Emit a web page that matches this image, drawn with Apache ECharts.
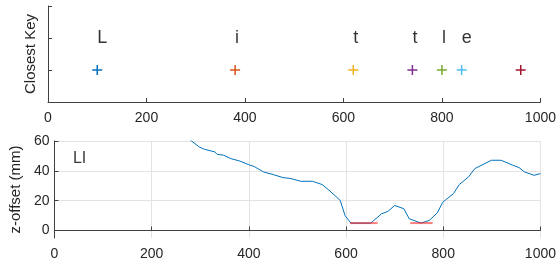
<!DOCTYPE html>
<html>
<head>
<meta charset="utf-8">
<script src="https://cdn.jsdelivr.net/npm/echarts@6/dist/echarts.min.js"></script>
<style>
  html, body { margin: 0; padding: 0; background: #fff; }
  #chart { width: 559px; height: 264px; }
</style>
</head>
<body>
<div id="chart"></div>
<script>
// top panel: closest key per press
var keyX = [100, 380, 620, 740, 800, 840, 960];
var keyColors = ['#0072BD', '#D95319', '#EDB120', '#7E2F8E', '#77AC30', '#4DBEEE', '#A2142F'];
var letterX = [100, 380, 620, 740, 800, 840];
var letters = ['L', 'i', 't', 't', 'l', 'e'];

// bottom panel: z-offset trace
var traceX = [278, 282, 298, 308, 330, 335, 348, 362, 382, 399, 411, 430, 450, 470, 487, 507, 531, 551, 565, 588, 598, 610, 651, 673, 686, 700, 719, 730, 754, 771, 788, 799, 821, 833, 852, 865, 899, 919, 943, 956, 967, 987, 1000];
var traceY = [61, 60, 56, 54.5, 52.7, 51, 50.5, 48.3, 46.5, 44.2, 42.9, 39.3, 37.5, 35.5, 34.8, 33, 33, 30.8, 27, 20.2, 10, 5, 5, 11.2, 12.8, 16.8, 14.6, 7.9, 5, 6.7, 11.9, 19, 24.7, 30.8, 35.9, 41.5, 47.1, 47.1, 43.8, 42.2, 39.3, 37, 38.2];
// press windows (drawn semi-transparent red over the trace)
var pressA = [[608, 5], [665, 5]];
var pressB = [[732, 5], [778, 5]];
var labelText = 'LI';
var labelPos = [38, 48.5];

var xTicks = [0, 200, 400, 600, 800, 1000];
var yTicks = [0, 20, 40, 60];

var axisColor = '#404040';
var textColor = '#262626';
var font = 'Liberation Sans, Arial, sans-serif';

var chart = echarts.init(document.getElementById('chart'));

var pairs = function (xs, ys) {
  var out = [];
  for (var i = 0; i < xs.length; i++) {
    out.push([xs[i], ys[i]]);
  }
  return out;
};

var xAxisBase = function (idx) {
  return {
    gridIndex: idx,
    type: 'value',
    min: 0,
    max: 1000,
    axisLine: { show: true, lineStyle: { color: axisColor, width: 1 } },
    axisTick: { show: true, inside: true, length: 4, customValues: xTicks, lineStyle: { color: axisColor } },
    axisLabel: {
      color: textColor, fontSize: 14, fontFamily: font, margin: 9,
      customValues: xTicks,
      formatter: function (v) { return String(v); },
    },
    splitLine: { show: idx === 1, lineStyle: { color: '#e3e3e3', width: 1 } },
  };
};

var pressSeries = function (data) {
  return {
    type: 'line',
    xAxisIndex: 1,
    yAxisIndex: 1,
    showSymbol: false,
    data: data,
    z: 3,
    lineStyle: { color: '#ff0000', opacity: 0.5, width: 2 },
  };
};

chart.setOption({
  animation: false,
  grid: [
    { left: 48, top: 6, width: 494, height: 96 },
    { left: 48, top: 141, width: 494, height: 97 },
  ],
  xAxis: [xAxisBase(0), xAxisBase(1)],
  yAxis: [
    {
      gridIndex: 0,
      type: 'value',
      min: 0,
      max: 3,
      interval: 1,
      name: 'Closest Key',
      nameLocation: 'middle',
      nameGap: 10,
      nameTextStyle: { color: textColor, fontSize: 15, fontFamily: font },
      axisLine: { show: true, lineStyle: { color: axisColor, width: 1 } },
      axisTick: { show: true, inside: true, length: 4, lineStyle: { color: axisColor } },
      axisLabel: { show: false },
      splitLine: { show: false },
    },
    {
      gridIndex: 1,
      type: 'value',
      min: -5,
      max: 60,
      name: 'z-offset (mm)',
      nameLocation: 'middle',
      nameGap: 25,
      nameTextStyle: { color: textColor, fontSize: 15, fontFamily: font },
      axisLine: { show: true, lineStyle: { color: axisColor, width: 1 } },
      axisTick: { show: true, inside: true, length: 4, customValues: yTicks, lineStyle: { color: axisColor } },
      axisLabel: { color: textColor, fontSize: 14, fontFamily: font, margin: 5, customValues: yTicks },
      splitLine: { show: true, lineStyle: { color: '#e3e3e3', width: 1 } },
    },
  ],
  series: [
    {
      type: 'scatter',
      xAxisIndex: 0,
      yAxisIndex: 0,
      symbol: 'path://M5,0L5,10M0,5L10,5',
      symbolSize: 10,
      data: keyX.map(function (x, i) {
        return {
          value: [x, 1],
          itemStyle: { color: 'transparent', borderColor: keyColors[i], borderWidth: 1.5, opacity: 1 },
        };
      }),
    },
    {
      type: 'scatter',
      xAxisIndex: 0,
      yAxisIndex: 0,
      symbolSize: 0,
      data: letterX.map(function (x, i) {
        return { value: [x, 2], name: letters[i] };
      }),
      label: {
        show: true,
        position: [0, 0],
        align: 'left',
        verticalAlign: 'middle',
        formatter: function (p) { return p.name; },
        color: '#000',
        fontSize: 18,
        fontFamily: font,
      },
    },
    {
      type: 'line',
      xAxisIndex: 1,
      yAxisIndex: 1,
      showSymbol: false,
      clip: true,
      z: 2,
      data: pairs(traceX, traceY),
      lineStyle: { color: '#0072BD', width: 1 },
    },
    pressSeries(pressA),
    pressSeries(pressB),
    {
      type: 'scatter',
      xAxisIndex: 1,
      yAxisIndex: 1,
      symbolSize: 0,
      data: [{ value: labelPos, name: labelText }],
      label: {
        show: true,
        position: [0, 0],
        align: 'left',
        verticalAlign: 'middle',
        formatter: function (p) { return p.name; },
        color: '#000',
        fontSize: 16,
        fontFamily: font,
      },
    },
  ],
});
</script>
</body>
</html>
